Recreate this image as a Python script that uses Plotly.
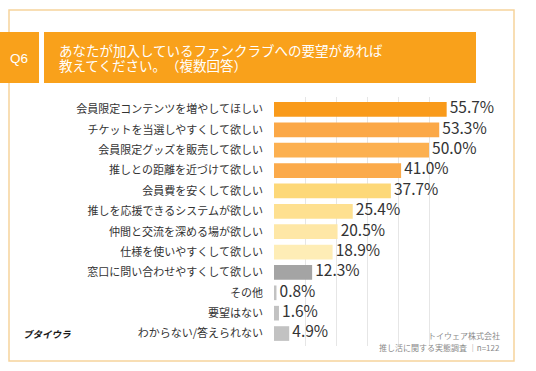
import plotly.graph_objects as go

categories = [
    "会員限定コンテンツを増やしてほしい",
    "チケットを当選しやすくして欲しい",
    "会員限定グッズを販売して欲しい",
    "推しとの距離を近づけて欲しい",
    "会員費を安くして欲しい",
    "推しを応援できるシステムが欲しい",
    "仲間と交流を深める場が欲しい",
    "仕様を使いやすくして欲しい",
    "窓口に問い合わせやすくして欲しい",
    "その他",
    "要望はない",
    "わからない/答えられない",
]
values = [55.7, 53.3, 50.0, 41.0, 37.7, 25.4, 20.5, 18.9, 12.3, 0.8, 1.6, 4.9]
bar_colors = [
    "#F99A1A", "#FBA847", "#FCB050", "#FBAA4A",
    "#FDD878", "#FEE090", "#FEE7A6", "#FEEDB6",
    "#A4A4A4", "#C2C2C2", "#C2C2C2", "#C2C2C2",
]
title_lines = ["あなたが加入しているファンクラブへの要望があれば", "教えてください。（複数回答）"]
q_label = "Q6"
logo_text = "ブタイウラ"
source_lines = ["トイウェア株式会社", "推し活に関する実態調査 ｜n=122"]

W, H = 536, 371
L, R, T, B = 274, 460, 97, 346
FONT = "Noto Sans CJK JP"
ORANGE = "#F9A11B"


def px(xp):
    return (xp - L) / (R - L)


def py(yp):
    return (B - yp) / (B - T)


fig = go.Figure()
fig.add_trace(go.Bar(
    x=values, y=categories, orientation="h",
    marker=dict(color=bar_colors, line=dict(width=0)),
    width=0.72, hoverinfo="skip",
))
fig.add_trace(go.Scatter(
    x=values, y=categories, mode="text",
    text=["\u2009" + f"{v:.1f}%" for v in values],
    textposition="middle right",
    textfont=dict(family=FONT, size=15.5, color="#333333"),
    cliponaxis=False, hoverinfo="skip",
))

shapes = [
    dict(type="rect", xref="paper", yref="paper",
         x0=px(9), x1=px(514), y0=py(10), y1=py(361),
         line=dict(color="#F6D49C", width=1.5), layer="below"),
    dict(type="rect", xref="paper", yref="paper",
         x0=px(0), x1=px(39), y0=py(32), y1=py(83),
         fillcolor=ORANGE, line=dict(width=0)),
    dict(type="rect", xref="paper", yref="paper",
         x0=px(44), x1=px(476), y0=py(32), y1=py(83),
         fillcolor=ORANGE, line=dict(width=0)),
]

annotations = [
    dict(text=q_label, xref="paper", yref="paper", x=px(19), y=py(58),
         xanchor="center", yanchor="middle", showarrow=False,
         font=dict(family="Liberation Sans", size=13.5, color="white")),
    dict(text=title_lines[0], xref="paper", yref="paper", x=px(57), y=py(49.5),
         xanchor="left", yanchor="middle", align="left", showarrow=False,
         font=dict(family=FONT, size=13.5, color="white")),
    dict(text=title_lines[1], xref="paper", yref="paper", x=px(57), y=py(65),
         xanchor="left", yanchor="middle", align="left", showarrow=False,
         font=dict(family=FONT, size=13.5, color="white")),
    dict(text=logo_text, xref="paper", yref="paper", x=px(21), y=py(334),
         xanchor="left", yanchor="middle", showarrow=False,
         font=dict(family=FONT, size=9.5, color="#1A1A1A", weight="bold", style="italic")),
    dict(text=source_lines[0], xref="paper", yref="paper", x=px(502), y=py(335),
         xanchor="right", yanchor="middle", showarrow=False,
         font=dict(family=FONT, size=8, color="#8A8A8A")),
    dict(text=source_lines[1], xref="paper", yref="paper", x=px(502), y=py(347),
         xanchor="right", yanchor="middle", showarrow=False,
         font=dict(family=FONT, size=8, color="#8A8A8A")),
]

fig.update_layout(
    width=W, height=H,
    margin=dict(l=L, r=W - R, t=T, b=H - B, pad=0),
    paper_bgcolor="white", plot_bgcolor="white",
    showlegend=False, bargap=0.28,
    shapes=shapes, annotations=annotations,
    font=dict(family=FONT),
    xaxis=dict(range=[0, 60], dtick=10, showgrid=True, gridcolor="#E6E6E6",
               gridwidth=1, zeroline=False, showticklabels=False,
               showline=False, fixedrange=True),
    yaxis=dict(autorange="reversed", showgrid=False, zeroline=False,
               showline=False, ticks="", ticklabelstandoff=10,
               tickfont=dict(family=FONT, size=11, color="#333333"),
               fixedrange=True),
)

fig.write_html(
    "out.html",
    config={"displayModeBar": False},
    post_script=(
        "document.body.style.margin='0';document.body.style.overflow='hidden';"
        "var s=document.createElement('style');"
        "s.textContent='text{text-spacing-trim:space-all;}';"
        "document.head.appendChild(s);"
    ),
)
